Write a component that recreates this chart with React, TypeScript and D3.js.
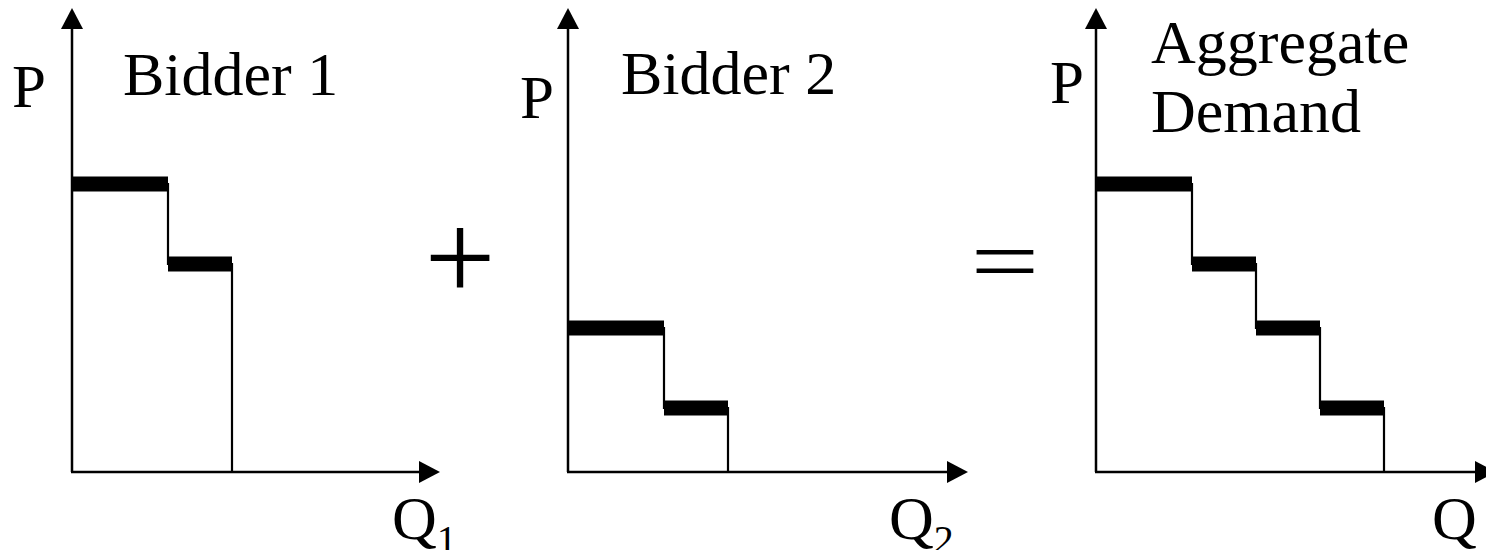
import React, { useEffect, useRef } from 'react';
import * as d3 from 'd3';

// step bids: price level and quantity at that level
const bidder1Prices = [9, 6.5];
const bidder1Qty = [3, 2];
const bidder2Prices = [4.5, 2];
const bidder2Qty = [3, 2];
const aggregatePrices = [9, 6.5, 4.5, 2];
const aggregateQty = [3, 2, 2, 2];

const titles = [['Bidder 1'], ['Bidder 2'], ['Aggregate', 'Demand']];
const qLabels = [['Q', '1'], ['Q', '2'], ['Q', '']];
const operators = ['+', '='];

const W = 1486, H = 550;
const FONT = '"Liberation Serif", "Times New Roman", serif';

function drawPanel(svg: any, opt: any) {
  const unit = 32;
  const x = d3.scaleLinear().domain([0, opt.xMax]).range([opt.left, opt.left + opt.xMax * unit]);
  const y = d3.scaleLinear().domain([0, 14.5]).range([472, 8]);
  const g = svg.append('g');

  // axes with arrow heads
  const arrowL = 21, arrowW = 11;
  g.append('line')
    .attr('x1', x(0)).attr('y1', y(0))
    .attr('x2', x(0)).attr('y2', y.range()[1] + arrowL)
    .attr('stroke', '#000').attr('stroke-width', 2.5);
  g.append('path')
    .attr('d', `M${x(0)},${y.range()[1]}L${x(0) - arrowW},${y.range()[1] + arrowL}L${x(0) + arrowW},${y.range()[1] + arrowL}Z`)
    .attr('fill', '#000');
  const xEnd = x(opt.xMax);
  g.append('line')
    .attr('x1', x(0) - 1).attr('y1', y(0))
    .attr('x2', xEnd - arrowL).attr('y2', y(0))
    .attr('stroke', '#000').attr('stroke-width', 2.5);
  g.append('path')
    .attr('d', `M${xEnd},${y(0)}L${xEnd - arrowL},${y(0) - arrowW}L${xEnd - arrowL},${y(0) + arrowW}Z`)
    .attr('fill', '#000');

  // step demand curve
  const cum: number[] = [0, ...Array.from(d3.cumsum(opt.qty as number[]))];
  const pts: [number, number][] = opt.prices.map((p: number, i: number) => [cum[i], p]);
  pts.push([cum[cum.length - 1], 0]);
  g.append('path')
    .attr('d', d3.line().x((d: any) => x(d[0])).y((d: any) => y(d[1])).curve(d3.curveStepAfter)(pts as any))
    .attr('fill', 'none').attr('stroke', '#000').attr('stroke-width', 2.2);

  g.selectAll('rect.bar')
    .data(opt.prices)
    .enter().append('rect')
    .attr('class', 'bar')
    .attr('x', (d: number, i: number) => x(cum[i]))
    .attr('width', (d: number, i: number) => x(cum[i + 1]) - x(cum[i]))
    .attr('y', (d: number) => y(d) - 7.5)
    .attr('height', 15)
    .attr('fill', '#000');

  // labels
  g.append('text').attr('x', opt.pPos[0]).attr('y', opt.pPos[1])
    .attr('font-family', FONT).attr('font-size', 61).text('P');
  opt.title.forEach((t: string, i: number) => {
    g.append('text').attr('x', opt.titlePos[0]).attr('y', opt.titlePos[1] + i * 69)
      .attr('font-family', FONT).attr('font-size', 62).text(t);
  });
  const q = g.append('text').attr('x', opt.qPos[0]).attr('y', opt.qPos[1])
    .attr('font-family', FONT).attr('font-size', 62);
  q.append('tspan').text(opt.q[0]);
  if (opt.q[1]) q.append('tspan').attr('font-size', 40).attr('dy', 14).text(opt.q[1]);
}

export default function App() {
  const ref = useRef<SVGSVGElement>(null);
  useEffect(() => {
    const svg = d3.select(ref.current);
    svg.selectAll('*').remove();

    drawPanel(svg, { left: 72, xMax: 11.5, prices: bidder1Prices, qty: bidder1Qty,
      title: titles[0], q: qLabels[0], pPos: [12, 107], titlePos: [123, 95], qPos: [392, 539] });
    drawPanel(svg, { left: 568, xMax: 12.5, prices: bidder2Prices, qty: bidder2Qty,
      title: titles[1], q: qLabels[1], pPos: [520, 118], titlePos: [621, 94], qPos: [889, 539] });
    drawPanel(svg, { left: 1096, xMax: 12.5, prices: aggregatePrices, qty: aggregateQty,
      title: titles[2], q: qLabels[2], pPos: [1050, 103], titlePos: [1151, 63], qPos: [1432, 539] });

    // the + and = between the panels
    svg.append('text').attr('x', 460).attr('y', 300).attr('text-anchor', 'middle')
      .attr('font-family', FONT).attr('font-size', 126).text(operators[0]);
    svg.append('g').attr('transform', 'translate(1005,263) scale(1,0.74)')
      .append('text').attr('x', 0).attr('y', 39.5).attr('text-anchor', 'middle')
      .attr('font-family', FONT).attr('font-size', 122).text(operators[1]);
  }, []);

  return (
    <svg ref={ref} width={W} height={H}
      style={{ position: 'absolute', left: 0, top: 0, background: '#fff' }} />
  );
}
